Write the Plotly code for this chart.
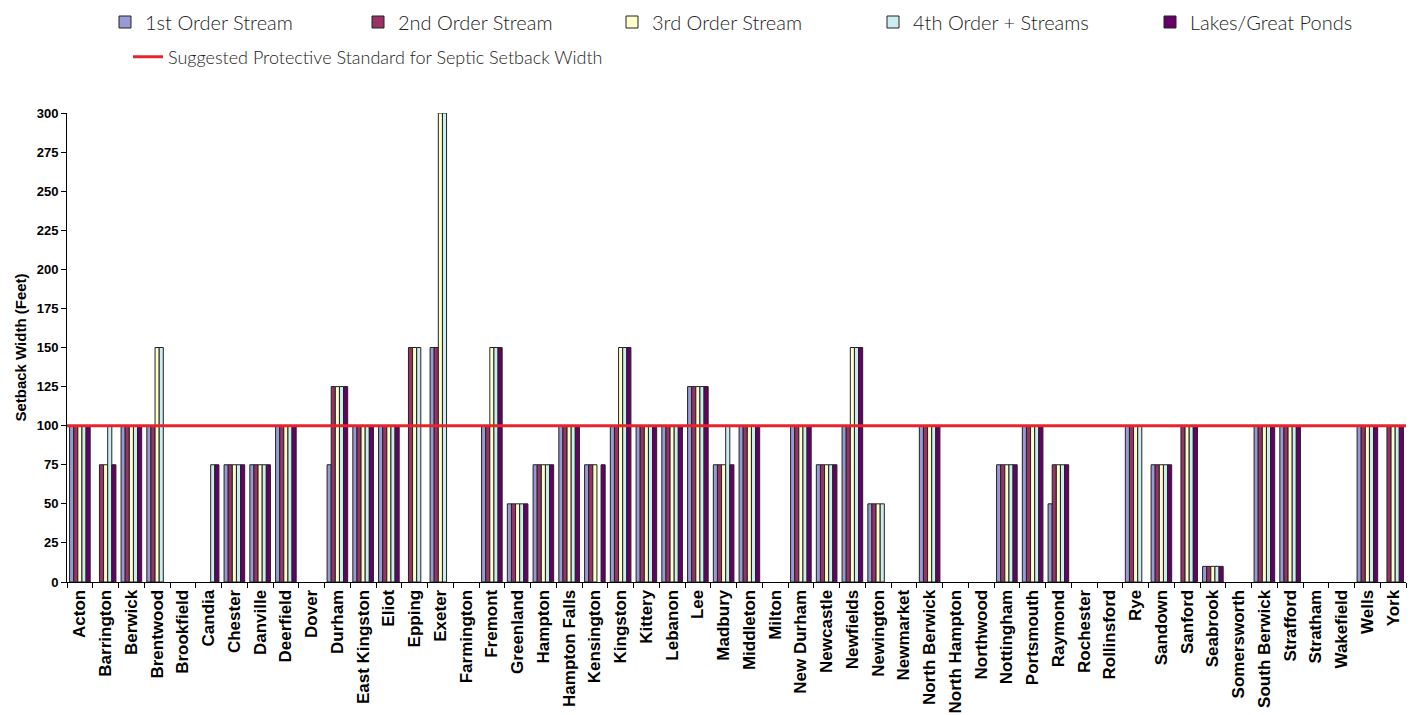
import plotly.graph_objects as go

towns = ["Acton", "Barrington", "Berwick", "Brentwood", "Brookfield", "Candia", "Chester",
         "Danville", "Deerfield", "Dover", "Durham", "East Kingston", "Eliot", "Epping",
         "Exeter", "Farmington", "Fremont", "Greenland", "Hampton", "Hampton Falls",
         "Kensington", "Kingston", "Kittery", "Lebanon", "Lee", "Madbury", "Middleton",
         "Milton", "New Durham", "Newcastle", "Newfields", "Newington", "Newmarket",
         "North Berwick", "North Hampton", "Northwood", "Nottingham", "Portsmouth",
         "Raymond", "Rochester", "Rollinsford", "Rye", "Sandown", "Sanford", "Seabrook",
         "Somersworth", "South Berwick", "Strafford", "Stratham", "Wakefield", "Wells", "York"]

first_order = [100, None, 100, 100, None, None, 75, 75, 100, None, 75, 100, 100, None,
               150, None, 100, 50, 75, 100, 75, 100, 100, 100, 125, 75, 100, None, 100,
               75, 100, 50, None, 100, None, None, 75, 100, 50, None, None, 100, 75, None,
               10, None, 100, 100, None, None, 100, None]
second_order = [100, 75, 100, 100, None, None, 75, 75, 100, None, 125, 100, 100, 150,
                150, None, 100, 50, 75, 100, 75, 100, 100, 100, 125, 75, 100, None, 100,
                75, 100, 50, None, 100, None, None, 75, 100, 75, None, None, 100, 75, 100,
                10, None, 100, 100, None, None, 100, 100]
third_order = [100, 75, 100, 150, None, None, 75, 75, 100, None, 125, 100, 100, 150,
               300, None, 150, 50, 75, 100, 75, 150, 100, 100, 125, 75, 100, None, 100,
               75, 150, 50, None, 100, None, None, 75, 100, 75, None, None, 100, 75, 100,
               10, None, 100, 100, None, None, 100, 100]
fourth_order = [100, 100, 100, 150, None, 75, 75, 75, 100, None, 125, 100, 100, 150,
                300, None, 150, 50, 75, 100, None, 150, 100, 100, 125, 100, 100, None, 100,
                75, 150, 50, None, 100, None, None, 75, 100, 75, None, None, 100, 75, 100,
                10, None, 100, 100, None, None, 100, 100]
lakes = [100, 75, 100, None, None, 75, 75, 75, 100, None, 125, 100, 100, None,
         None, None, 150, 50, 75, 100, 75, 150, 100, 100, 125, 75, 100, None, 100,
         75, 150, None, None, 100, None, None, 75, 100, 75, None, None, None, 75, 100,
         10, None, 100, 100, None, None, 100, 100]

standard = 100
series_names = ["1st Order Stream", "2nd Order Stream", "3rd Order Stream",
                "4th Order + Streams", "Lakes/Great Ponds"]
standard_name = "Suggested Protective Standard for Septic Setback Width"
y_ticks = list(range(0, 301, 25))

colors = ["#9999D6", "#993366", "#FFFFCC", "#CCECF2", "#660066"]
red = "#E8242B"
series = [first_order, second_order, third_order, fourth_order, lakes]

W, H = 1416, 715
legend_ids = ["legend2", "legend3", "legend4", "legend5", "legend6"]
legend_left_px = [105, 358, 612, 873, 1150]

fig = go.Figure()
for name, vals, col, lid in zip(series_names, series, colors, legend_ids):
    fig.add_trace(go.Bar(
        x=towns, y=vals, name=name,
        marker=dict(color=col, line=dict(color="#222222", width=1)),
        legend=lid,
    ))

# legend entry for the standard line (the line itself is drawn as a shape)
fig.add_trace(go.Scatter(
    x=[None], y=[None], mode="lines", name=standard_name,
    line=dict(color=red, width=3), legend="legend", hoverinfo="skip",
))
fig.add_shape(
    type="line", xref="paper", x0=0, x1=1, yref="y", y0=standard, y1=standard,
    line=dict(color=red, width=3),
)

legend_font = dict(family="Lato, sans-serif", size=20, color="#222222", weight=300)
layout_legends = {}
for lid, px in zip(legend_ids, legend_left_px):
    layout_legends[lid] = dict(
        orientation="h", xref="container", yref="container",
        x=px / W, y=1 - 22 / H, xanchor="left", yanchor="middle",
        font=legend_font, bgcolor="rgba(0,0,0,0)",
    )
layout_legends["legend"] = dict(
    orientation="h", xref="container", yref="container",
    x=128 / W, y=1 - 57 / H, xanchor="left", yanchor="middle",
    font=dict(family="Lato, sans-serif", size=18, color="#222222", weight=300),
    bgcolor="rgba(0,0,0,0)",
)

fig.update_layout(
    width=W, height=H, showlegend=True,
    paper_bgcolor="white", plot_bgcolor="white",
    barmode="group", bargap=0.2, bargroupgap=0,
    margin=dict(l=67, r=10, t=113, b=133, autoexpand=False),
    font=dict(family="Arial, Liberation Sans, sans-serif", color="black"),
    xaxis=dict(
        type="category", tickson="boundaries", ticks="outside", ticklen=5,
        tickcolor="black", showline=True, linecolor="black", linewidth=1,
        tickangle=-90, tickfont=dict(size=17, weight="bold"),
        showgrid=False, automargin=False,
    ),
    yaxis=dict(
        range=[0, 300], tickvals=y_ticks, ticks="outside", ticklen=5,
        tickcolor="black", showline=True, linecolor="black", linewidth=1,
        showgrid=False, zeroline=False, automargin=False,
        tickfont=dict(size=13, weight="bold"),
        title=dict(text="Setback Width (Feet)", font=dict(size=15, weight="bold"),
                   standoff=6),
    ),
    **layout_legends,
)

fig.write_html("out.html", config={"displayModeBar": False},
               post_script="document.body.style.margin='0';")
